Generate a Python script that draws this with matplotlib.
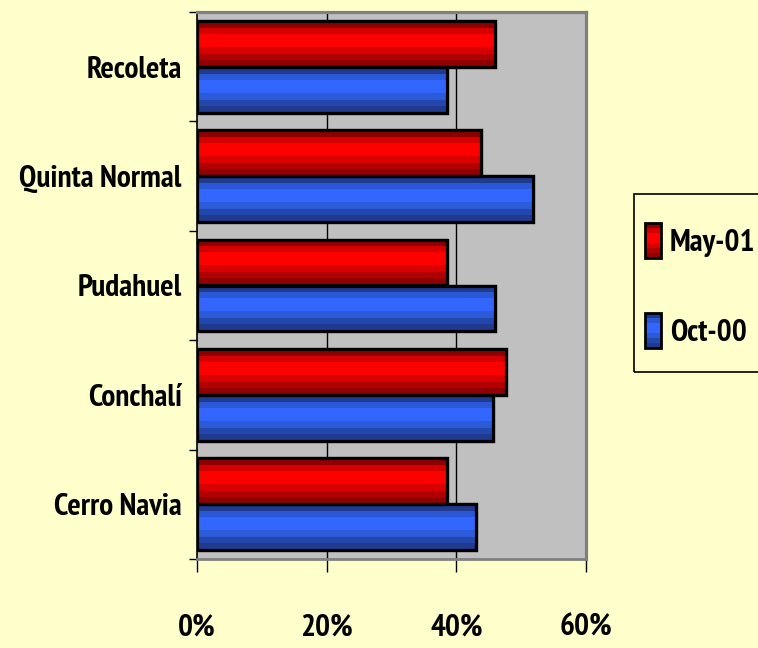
import matplotlib
matplotlib.use("Agg")
import matplotlib.pyplot as plt
import numpy as np
from matplotlib import font_manager as fm
from matplotlib.colors import ListedColormap
from matplotlib.patches import Rectangle, Patch
from matplotlib.ticker import FuncFormatter, FixedLocator
from matplotlib.textpath import TextPath
from matplotlib.legend_handler import HandlerBase

# ---- data ----
categories = ["Cerro Navia", "Conchalí", "Pudahuel", "Quinta Normal", "Recoleta"]
may01 = [38.5, 47.7, 38.5, 43.8, 46.0]
oct00 = [43.0, 45.7, 46.0, 51.9, 38.5]
series_labels = ["May-01", "Oct-00"]
x_ticks = [0, 20, 40, 60]

BG = "#FFFFCC"
PLOT_BG = "#C0C0C0"
red_stripes = ["#8E0000", "#D40000", "#FF0000", "#FF0000", "#D80000", "#B00000", "#900000"]
blue_stripes = ["#1F3A8F", "#2A58D6", "#3366FF", "#3366FF", "#2C5BD8", "#2447AE", "#1F3A8F"]

# ---- find a narrow / condensed bold font if one is installed ----
def pick_font():
    cands = []
    for f in fm.fontManager.ttflist:
        n = (f.name + " " + f.fname).lower()
        if ("narrow" in n or "condensed" in n) and not ("italic" in n or "oblique" in n):
            w = f.weight if isinstance(f.weight, int) else (700 if "bold" in str(f.weight) else 400)
            bold = w >= 600 or "bold" in n
            cands.append((0 if bold else 1, 0 if "narrow" in n else 1, f.fname))
    if cands:
        cands.sort()
        return fm.FontProperties(fname=cands[0][2], weight="bold")
    return fm.FontProperties(family="DejaVu Sans", weight="bold")

base_fp = pick_font()

# fit size so that "Quinta Normal" spans ~162 px (at 100 dpi => points*100/72)
tp = TextPath((0, 0), "Quinta Normal", size=100, prop=base_fp)
wpts = tp.get_extents().width  # width at 100 pt
target_px = 162
FS = target_px * 72 / 100 / wpts * 100
FS = min(FS, 24)

def fp():
    p = base_fp.copy()
    p.set_size(FS)
    return p

W, H = 758, 648
fig = plt.figure(figsize=(W / 100, H / 100), dpi=100, facecolor=BG)
ax = fig.add_axes([197 / W, 1 - 559 / H, (586 - 197) / W, (559 - 12) / H])
ax.set_facecolor(PLOT_BG)

y = np.arange(len(categories))
bh = 0.42
bars_may = ax.barh(y + bh / 2, may01, height=bh, facecolor="#FF0000",
                   edgecolor="black", linewidth=2.3, zorder=3)
bars_oct = ax.barh(y - bh / 2, oct00, height=bh, facecolor="#3366FF",
                   edgecolor="black", linewidth=2.3, zorder=3)


def stripe(bars, colors):
    cmap = ListedColormap(colors)
    grad = np.linspace(0, 1, len(colors)).reshape(-1, 1)
    for b in bars:
        x0, y0, w, h = b.get_x(), b.get_y(), b.get_width(), b.get_height()
        im = ax.imshow(grad, extent=(x0, x0 + w, y0, y0 + h), origin="upper",
                       aspect="auto", cmap=cmap, interpolation="nearest", zorder=3.5)
        im.set_clip_path(b)
        ax.add_patch(Rectangle((x0, y0), w, h, fill=False, edgecolor="black",
                               linewidth=2.3, zorder=4))


stripe(bars_may, red_stripes)
stripe(bars_oct, blue_stripes)

ax.set_xlim(0, 60)
ax.set_ylim(-0.5, len(categories) - 0.5)

# x axis
ax.xaxis.set_major_locator(FixedLocator(x_ticks))
ax.xaxis.set_major_formatter(FuncFormatter(lambda v, p: f"{v:.0f}%"))
ax.tick_params(axis="x", direction="out", length=9.5, width=1, color="black", pad=29.5)
for v in x_ticks[1:-1]:
    ax.axvline(v, color="black", linewidth=1, zorder=1)

# y axis: ticks at category boundaries, labels at centers
ax.yaxis.set_major_locator(FixedLocator(np.arange(-0.5, len(categories), 1.0)))
ax.yaxis.set_major_formatter(FuncFormatter(lambda v, p: ""))
ax.yaxis.set_minor_locator(FixedLocator(y))
ax.set_yticklabels(categories, minor=True)
ax.tick_params(axis="y", which="major", direction="out", length=5.5, width=1, color="black")
ax.tick_params(axis="y", which="minor", length=0, pad=11)

for lab in ax.get_xticklabels() + ax.get_yticklabels(minor=True):
    lab.set_fontproperties(fp())

ax.spines["left"].set_color("black")
ax.spines["left"].set_linewidth(1.2)
ax.spines["bottom"].set_color("#808080")
ax.spines["bottom"].set_linewidth(2)
ax.spines["top"].set_color("#808080")
ax.spines["top"].set_linewidth(2.3)
ax.spines["right"].set_color("#808080")
ax.spines["right"].set_linewidth(2.3)


class StripeHandler(HandlerBase):
    def __init__(self, colors):
        super().__init__()
        self.colors = colors

    def create_artists(self, legend, orig_handle, xdescent, ydescent, width,
                       height, fontsize, trans):
        n = len(self.colors)
        arts = []
        for i, c in enumerate(self.colors):
            arts.append(Rectangle((-xdescent, -ydescent + height * (n - 1 - i) / n),
                                  width, height / n, facecolor=c, edgecolor="none",
                                  transform=trans))
        arts.append(Rectangle((-xdescent, -ydescent), width, height, fill=False,
                              edgecolor="black", linewidth=2, transform=trans))
        return arts


# legend frame
fig.patches.append(Rectangle((634 / W, 1 - 372 / H), 200 / W, 178 / H,
                             transform=fig.transFigure, facecolor="none",
                             edgecolor="black", linewidth=1.2))
h_may = Patch(facecolor="#FF0000")
h_oct = Patch(facecolor="#3366FF")
fs_px = FS * 100 / 72
hh = (35 / fs_px - 0.245) / 0.65
fig.legend([h_may, h_oct], series_labels, loc="center left",
           bbox_to_anchor=(645 / W, 1 - 285 / H), frameon=False,
           prop=fp(),
           handler_map={h_may: StripeHandler(red_stripes), h_oct: StripeHandler(blue_stripes)},
           handlelength=16 / fs_px, handleheight=hh, handletextpad=9 / fs_px,
           labelspacing=(90 - 35) / fs_px, borderpad=0, borderaxespad=0)

fig.savefig("out.png", dpi=100, facecolor=BG)
